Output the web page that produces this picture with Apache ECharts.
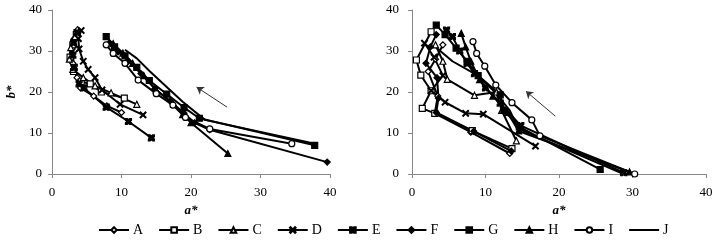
<!DOCTYPE html>
<html>
<head>
<meta charset="utf-8">
<script src="https://cdn.jsdelivr.net/npm/echarts@6/dist/echarts.min.js"></script>
<style>
  html, body { margin: 0; padding: 0; background: #fff; }
  #chart { width: 721px; height: 245px; }
</style>
</head>
<body>
<div id="chart"></div>
<script>
// legend names
var names = ['A', 'B', 'C', 'D', 'E', 'F', 'G', 'H', 'I', 'J'];

// left panel, [a*, b*] pairs
var leftA = [[3.7,35.2],[3.2,33],[2.9,30.5],[3.0,27],[3.6,23.5],[4.1,21],[6,19],[7.9,16.6],[10,15]];
var leftB = [[3.5,34],[3.0,31.5],[2.6,28.5],[3.1,25],[4.2,22.5],[5.5,22],[7.1,20],[10.4,18.5]];
var leftC = [[3.3,33.5],[2.7,30.8],[2.5,28],[3.0,25.5],[4.5,23.5],[6.2,21.5],[8.5,19.8],[12.2,17]];
var leftD = [[4.2,35],[3.8,33],[3.9,30.5],[4.5,27.5],[5.2,25.5],[6.2,23.5],[7.2,20.5],[9.8,17],[13.1,14.4]];
var leftE = [[3.6,34.5],[3.1,32],[3.0,29],[3.2,26],[3.9,22],[4.6,21],[7.8,16.3],[11,12.8],[14.3,8.8]];
var leftF = [[8.3,32],[9.5,29.8],[11,27.5],[12.8,24.5],[14.8,20.8],[17,17.8],[19,14.8],[20.5,12.5],[22.7,10.8],[39.6,2.9]];
var leftG = [[7.8,33.5],[9,31],[10.5,28.8],[12.2,26],[14,22.8],[16.5,19.5],[19,16.2],[21.2,13.6],[37.8,7]];
var leftH = [[8.8,31.8],[10.2,29.5],[11.6,27],[13.2,24],[15,20.5],[17.5,17],[18.8,14.5],[20,12.5],[25.3,5]];
var leftI = [[7.8,31.5],[8.8,29.4],[10.5,27],[12.4,22.9],[15,19.6],[17.4,16.8],[19.2,13.8],[22.7,11],[34.5,7.4]];
var leftJ = [[10.5,30.3],[12.2,28.2],[14.1,25],[16.7,20.9],[18.8,17.6],[22,13.2],[38,7.3]];

// right panel
var rightA = [[4.2,31.5],[3.2,28],[2.2,25],[3.5,19],[3.1,14.8],[8,10.2],[13.3,5.0]];
var rightB = [[2.6,34.7],[0.6,27.8],[1.2,24.1],[2.6,20.3],[1.4,16],[3.1,14.8],[8.2,10.6],[13.6,6.2]];
var rightC = [[3.2,31.5],[4.2,27.5],[4.8,23.1],[8.5,19.2],[11.5,20],[12.2,15.5],[14.2,8.1]];
var rightD = [[1.7,31.9],[3,28.5],[4.2,24],[2.6,20.3],[4.5,17.5],[7.3,14.8],[9.7,14.6],[16.8,6.8]];
var rightE = [[4.7,35.1],[5.5,33.5],[6.5,30],[7.5,27],[8.5,24.5],[10,21],[12,17.3],[14.8,11.8],[28.8,0.3]];
var rightF = [[3.3,34],[2.5,31],[1.9,27],[3.4,23.5],[3.6,18.5],[3.3,15],[8.4,10.4],[13.5,5.6]];
var rightG = [[3.3,36.3],[4.5,34],[6,30.7],[7.5,27.5],[9,24],[12,19.3],[12.5,15.5],[14.6,11.5],[25.6,1.1]];
var rightH = [[6.7,34.3],[7.3,31],[8,27.5],[9.2,23],[11,19],[13,15],[14.5,10.5],[29.6,0.5]];
var rightI = [[8.3,32.3],[8.8,29.4],[9.9,26.3],[11.4,21.7],[13.6,17.4],[16.3,13.2],[17.4,9.3],[30.3,0]];
var rightJ = [[3.2,31],[5.5,27.5],[8.5,24.5],[11,20.5],[13.3,15.5],[14.5,11],[28.8,0]];

// arrows (tail -> head)
var leftArrow = [[25.2,16.3],[20.8,21.2]];
var rightArrow = [[19.5,14.1],[15.5,20.2]];

var xTicks = [0, 10, 20, 30, 40];

var leftData = [leftA, leftB, leftC, leftD, leftE, leftF, leftG, leftH, leftI, leftJ];
var rightData = [rightA, rightB, rightC, rightD, rightE, rightF, rightG, rightH, rightI, rightJ];

var xPath = 'path://M1,0L5,4L9,0L10,1L6,5L10,9L9,10L5,6L1,10L0,9L4,5L0,1Z';
var starPath = 'path://M0,0L3,0L5,2L7,0L10,0L10,3L8,5L10,7L10,10L7,10L5,8L3,10L0,10L0,7L2,5L0,3Z';
// marker per series: [symbol, filled]
var marks = [
    ['diamond', false], ['rect', false], ['triangle', false], [xPath, true], [starPath, true],
    ['diamond', true], ['rect', true], ['triangle', true], ['circle', false], ['none', true]
];

var serif = '"Liberation Serif", "Times New Roman", serif';

function makeSeries(data, idx, grid){
    return {
        name: names[idx],
        type: 'line',
        xAxisIndex: grid,
        yAxisIndex: grid,
        data: data,
        symbol: marks[idx][0],
        symbolSize: 6,
        showSymbol: marks[idx][0] != 'none',
        lineStyle: { color: '#000', width: 2 },
        itemStyle: {
            color: marks[idx][1] ? '#000' : '#fff',
            borderColor: '#000',
            borderWidth: 1.2
        },
        z: 3
    };
}

function arrowSeries(pts, grid){
    return {
        type: 'lines',
        coordinateSystem: 'cartesian2d',
        xAxisIndex: grid,
        yAxisIndex: grid,
        symbol: ['none', 'arrow'],
        symbolSize: 7,
        lineStyle: { color: '#333', width: 1, opacity: 1 },
        data: [{ coords: pts }],
        z: 2
    };
}

var series = [];
for (var i = 0; i < names.length; i++) {
    series.push(makeSeries(leftData[i], i, 0));
}
for (var j = 0; j < names.length; j++) {
    series.push(makeSeries(rightData[j], j, 1));
}
series.push(arrowSeries(leftArrow, 0));
series.push(arrowSeries(rightArrow, 1));

function xAxisCfg(grid){
    return {
        type: 'value', gridIndex: grid, min: 0, max: 40, interval: 10,
        name: 'a*', nameLocation: 'middle', nameGap: 28,
        nameTextStyle: { fontFamily: serif, fontStyle: 'italic', fontWeight: 'bold', fontSize: 13, color: '#000' },
        axisLine: { lineStyle: { color: '#888', width: 1 } },
        axisTick: { show: true, inside: false, length: 4, lineStyle: { color: '#888' } },
        splitLine: { show: false },
        axisLabel: { fontFamily: serif, fontSize: 13, color: '#000', margin: 12,
            formatter: function(v){ return xTicks.indexOf(v) >= 0 ? String(v) : ''; } }
    };
}
function yAxisCfg(grid, named, margin){
    return {
        type: 'value', gridIndex: grid, min: 0, max: 40, interval: 10,
        name: named ? 'b*' : '', nameLocation: 'middle', nameGap: 34, nameRotate: 90,
        nameTextStyle: { fontFamily: serif, fontStyle: 'italic', fontWeight: 'bold', fontSize: 13, color: '#000' },
        axisLine: { show: true, lineStyle: { color: '#888', width: 1 } },
        axisTick: { show: true, inside: false, length: 4, lineStyle: { color: '#888' } },
        splitLine: { show: false },
        axisLabel: { fontFamily: serif, fontSize: 13, color: '#000', margin: margin }
    };
}

// legend entries; J has no marker
var legendData = names.map(function(n){
    return n == 'J' ? { name: n, itemStyle: { opacity: 0 } } : n;
});

var chart = echarts.init(document.getElementById('chart'));
var option = {
    animation: false,
    backgroundColor: '#fff',
    grid: [
        { left: 52, top: 10, width: 278, height: 164 },
        { left: 412, top: 10, width: 294, height: 164 }
    ],
    xAxis: [xAxisCfg(0), xAxisCfg(1)],
    yAxis: [yAxisCfg(0, true, 10), yAxisCfg(1, false, 13)],
    legend: {
        data: legendData,
        left: 93,
        top: 218,
        itemWidth: 30,
        itemHeight: 7,
        itemGap: 15,
        textStyle: { fontFamily: serif, fontSize: 14, color: '#000', padding: [0, 0, 0, -1] }
    },
    series: series
};
chart.setOption(option);
</script>
</body>
</html>
